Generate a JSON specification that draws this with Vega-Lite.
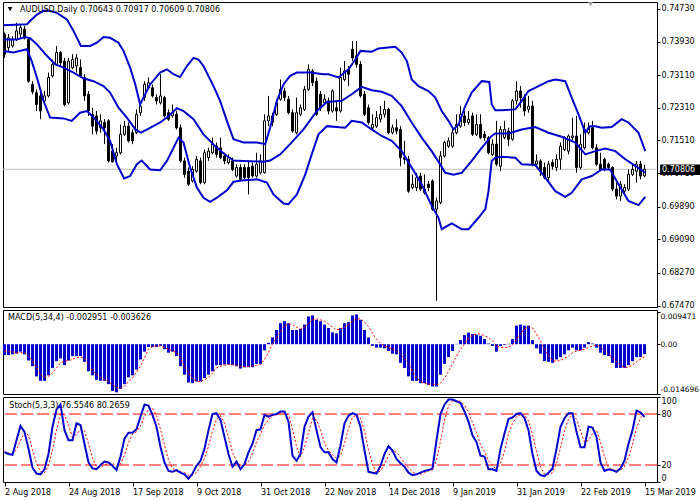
{
"$schema": "https://vega.github.io/schema/vega-lite/v6.json",
"padding": {"left": 0, "top": 1, "right": 0, "bottom": 0},
"background": "white",
"spacing": 3,
"bounds": "flush",
"resolve": {"scale": {"x": "independent", "y": "independent"}},
"config": {
 "view": {"stroke": "black", "strokeWidth": 1},
 "scale": {"continuousPadding": 0},
 "axis": {"grid": false, "domain": false, "labelFont": "DejaVu Sans", "labelFontSize": 8, "labelColor": "black", "tickColor": "black", "tickSize": 3, "labelPadding": 1, "labelOverlap": false, "labelBound": false, "tickCount": 30}
},
"datasets": {
"bars": [
{"i":0,"o":0.7411,"h":0.7415,"l":0.7353,"c":0.7362,"m":-0.0032,"s":-0.0022,"st":35,"sg":36},
{"i":1,"o":0.7378,"h":0.7411,"l":0.7370,"c":0.7402,"m":-0.0032,"s":-0.0022,"st":33,"sg":34},
{"i":2,"o":0.7382,"h":0.7406,"l":0.7378,"c":0.7398,"m":-0.0030,"s":-0.0023,"st":32,"sg":33},
{"i":3,"o":0.7398,"h":0.7439,"l":0.7394,"c":0.7419,"m":-0.0028,"s":-0.0025,"st":49,"sg":38},
{"i":4,"o":0.7411,"h":0.7435,"l":0.7402,"c":0.7427,"m":-0.0022,"s":-0.0025,"st":66,"sg":49},
{"i":5,"o":0.7423,"h":0.7431,"l":0.7398,"c":0.7402,"m":-0.0030,"s":-0.0025,"st":59,"sg":58},
{"i":6,"o":0.7398,"h":0.7402,"l":0.7292,"c":0.7296,"m":-0.0048,"s":-0.0035,"st":39,"sg":55},
{"i":7,"o":0.7288,"h":0.7296,"l":0.7264,"c":0.7270,"m":-0.0065,"s":-0.0050,"st":17,"sg":38},
{"i":8,"o":0.7268,"h":0.7276,"l":0.7223,"c":0.7239,"m":-0.0095,"s":-0.0070,"st":10,"sg":22},
{"i":9,"o":0.7260,"h":0.7268,"l":0.7203,"c":0.7223,"m":-0.0108,"s":-0.0090,"st":9,"sg":12},
{"i":10,"o":0.7248,"h":0.7272,"l":0.7239,"c":0.7260,"m":-0.0108,"s":-0.0098,"st":15,"sg":11},
{"i":11,"o":0.7260,"h":0.7317,"l":0.7256,"c":0.7305,"m":-0.0092,"s":-0.0095,"st":33,"sg":19},
{"i":12,"o":0.7309,"h":0.7349,"l":0.7305,"c":0.7337,"m":-0.0070,"s":-0.0085,"st":65,"sg":38},
{"i":13,"o":0.7337,"h":0.7382,"l":0.7333,"c":0.7366,"m":-0.0050,"s":-0.0070,"st":85,"sg":61},
{"i":14,"o":0.7366,"h":0.7370,"l":0.7333,"c":0.7341,"m":-0.0042,"s":-0.0055,"st":91,"sg":80},
{"i":15,"o":0.7345,"h":0.7353,"l":0.7235,"c":0.7239,"m":-0.0062,"s":-0.0050,"st":61,"sg":79},
{"i":16,"o":0.7243,"h":0.7353,"l":0.7239,"c":0.7345,"m":-0.0048,"s":-0.0048,"st":49,"sg":67},
{"i":17,"o":0.7329,"h":0.7362,"l":0.7325,"c":0.7349,"m":-0.0035,"s":-0.0045,"st":49,"sg":53},
{"i":18,"o":0.7333,"h":0.7362,"l":0.7317,"c":0.7353,"m":-0.0035,"s":-0.0040,"st":69,"sg":56},
{"i":19,"o":0.7329,"h":0.7349,"l":0.7305,"c":0.7309,"m":-0.0035,"s":-0.0038,"st":67,"sg":62},
{"i":20,"o":0.7305,"h":0.7313,"l":0.7248,"c":0.7260,"m":-0.0052,"s":-0.0042,"st":45,"sg":60},
{"i":21,"o":0.7264,"h":0.7272,"l":0.7211,"c":0.7223,"m":-0.0080,"s":-0.0060,"st":23,"sg":45},
{"i":22,"o":0.7215,"h":0.7231,"l":0.7166,"c":0.7186,"m":-0.0092,"s":-0.0078,"st":16,"sg":28},
{"i":23,"o":0.7211,"h":0.7223,"l":0.7166,"c":0.7174,"m":-0.0105,"s":-0.0090,"st":15,"sg":18},
{"i":24,"o":0.7182,"h":0.7215,"l":0.7170,"c":0.7199,"m":-0.0108,"s":-0.0098,"st":20,"sg":17},
{"i":25,"o":0.7195,"h":0.7203,"l":0.7142,"c":0.7182,"m":-0.0108,"s":-0.0105,"st":24,"sg":20},
{"i":26,"o":0.7199,"h":0.7203,"l":0.7097,"c":0.7101,"m":-0.0118,"s":-0.0110,"st":23,"sg":22},
{"i":27,"o":0.7125,"h":0.7142,"l":0.7097,"c":0.7099,"m":-0.0138,"s":-0.0120,"st":19,"sg":22},
{"i":28,"o":0.7113,"h":0.7133,"l":0.7093,"c":0.7121,"m":-0.0142,"s":-0.0128,"st":14,"sg":19},
{"i":29,"o":0.7121,"h":0.7190,"l":0.7117,"c":0.7166,"m":-0.0132,"s":-0.0130,"st":30,"sg":21},
{"i":30,"o":0.7166,"h":0.7199,"l":0.7162,"c":0.7186,"m":-0.0118,"s":-0.0125,"st":51,"sg":32},
{"i":31,"o":0.7186,"h":0.7195,"l":0.7146,"c":0.7150,"m":-0.0098,"s":-0.0110,"st":58,"sg":46},
{"i":32,"o":0.7170,"h":0.7178,"l":0.7142,"c":0.7150,"m":-0.0092,"s":-0.0100,"st":58,"sg":56},
{"i":33,"o":0.7170,"h":0.7227,"l":0.7166,"c":0.7215,"m":-0.0075,"s":-0.0082,"st":62,"sg":59},
{"i":34,"o":0.7219,"h":0.7248,"l":0.7211,"c":0.7235,"m":-0.0045,"s":-0.0065,"st":77,"sg":66},
{"i":35,"o":0.7256,"h":0.7296,"l":0.7248,"c":0.7288,"m":-0.0022,"s":-0.0040,"st":91,"sg":77},
{"i":36,"o":0.7280,"h":0.7305,"l":0.7276,"c":0.7292,"m":-0.0008,"s":-0.0015,"st":90,"sg":86},
{"i":37,"o":0.7280,"h":0.7288,"l":0.7256,"c":0.7260,"m":-0.0008,"s":-0.0007,"st":79,"sg":87},
{"i":38,"o":0.7256,"h":0.7264,"l":0.7239,"c":0.7248,"m":-0.0008,"s":-0.0005,"st":65,"sg":78},
{"i":39,"o":0.7243,"h":0.7313,"l":0.7239,"c":0.7260,"m":-0.0005,"s":-0.0005,"st":41,"sg":62},
{"i":40,"o":0.7256,"h":0.7260,"l":0.7207,"c":0.7211,"m":-0.0015,"s":-0.0010,"st":23,"sg":43},
{"i":41,"o":0.7219,"h":0.7227,"l":0.7199,"c":0.7203,"m":-0.0025,"s":-0.0015,"st":13,"sg":26},
{"i":42,"o":0.7211,"h":0.7239,"l":0.7207,"c":0.7219,"m":-0.0022,"s":-0.0020,"st":12,"sg":16},
{"i":43,"o":0.7215,"h":0.7223,"l":0.7178,"c":0.7182,"m":-0.0035,"s":-0.0025,"st":14,"sg":13},
{"i":44,"o":0.7182,"h":0.7190,"l":0.7097,"c":0.7101,"m":-0.0065,"s":-0.0042,"st":11,"sg":12},
{"i":45,"o":0.7101,"h":0.7109,"l":0.7060,"c":0.7068,"m":-0.0090,"s":-0.0065,"st":9,"sg":11},
{"i":46,"o":0.7076,"h":0.7085,"l":0.7040,"c":0.7044,"m":-0.0113,"s":-0.0085,"st":4,"sg":8},
{"i":47,"o":0.7052,"h":0.7088,"l":0.7048,"c":0.7080,"m":-0.0115,"s":-0.0102,"st":10,"sg":8},
{"i":48,"o":0.7076,"h":0.7113,"l":0.7072,"c":0.7105,"m":-0.0110,"s":-0.0110,"st":19,"sg":11},
{"i":49,"o":0.7101,"h":0.7109,"l":0.7044,"c":0.7048,"m":-0.0110,"s":-0.0110,"st":25,"sg":18},
{"i":50,"o":0.7048,"h":0.7129,"l":0.7044,"c":0.7121,"m":-0.0100,"s":-0.0105,"st":39,"sg":28},
{"i":51,"o":0.7109,"h":0.7133,"l":0.7101,"c":0.7125,"m":-0.0090,"s":-0.0098,"st":61,"sg":42},
{"i":52,"o":0.7121,"h":0.7158,"l":0.7117,"c":0.7142,"m":-0.0080,"s":-0.0085,"st":80,"sg":60},
{"i":53,"o":0.7137,"h":0.7146,"l":0.7109,"c":0.7117,"m":-0.0062,"s":-0.0070,"st":81,"sg":74},
{"i":54,"o":0.7133,"h":0.7158,"l":0.7105,"c":0.7109,"m":-0.0062,"s":-0.0065,"st":73,"sg":78},
{"i":55,"o":0.7113,"h":0.7121,"l":0.7093,"c":0.7101,"m":-0.0060,"s":-0.0062,"st":53,"sg":69},
{"i":56,"o":0.7097,"h":0.7117,"l":0.7093,"c":0.7109,"m":-0.0060,"s":-0.0060,"st":33,"sg":53},
{"i":57,"o":0.7101,"h":0.7109,"l":0.7076,"c":0.7080,"m":-0.0062,"s":-0.0060,"st":18,"sg":35},
{"i":58,"o":0.7064,"h":0.7093,"l":0.7060,"c":0.7085,"m":-0.0065,"s":-0.0062,"st":24,"sg":25},
{"i":59,"o":0.7085,"h":0.7093,"l":0.7052,"c":0.7056,"m":-0.0072,"s":-0.0065,"st":15,"sg":19},
{"i":60,"o":0.7085,"h":0.7093,"l":0.7056,"c":0.7060,"m":-0.0068,"s":-0.0067,"st":21,"sg":20},
{"i":61,"o":0.7085,"h":0.7101,"l":0.7019,"c":0.7060,"m":-0.0068,"s":-0.0066,"st":35,"sg":24},
{"i":62,"o":0.7088,"h":0.7097,"l":0.7060,"c":0.7064,"m":-0.0068,"s":-0.0065,"st":45,"sg":34},
{"i":63,"o":0.7064,"h":0.7121,"l":0.7060,"c":0.7093,"m":-0.0058,"s":-0.0062,"st":61,"sg":47},
{"i":64,"o":0.7072,"h":0.7117,"l":0.7068,"c":0.7101,"m":-0.0058,"s":-0.0060,"st":62,"sg":56},
{"i":65,"o":0.7072,"h":0.7215,"l":0.7070,"c":0.7199,"m":-0.0018,"s":-0.0045,"st":79,"sg":67},
{"i":66,"o":0.7199,"h":0.7260,"l":0.7186,"c":0.7211,"m":0.0004,"s":-0.0025,"st":77,"sg":73},
{"i":67,"o":0.7211,"h":0.7219,"l":0.7186,"c":0.7195,"m":0.0020,"s":0.0002,"st":79,"sg":78},
{"i":68,"o":0.7215,"h":0.7252,"l":0.7211,"c":0.7243,"m":0.0042,"s":0.0020,"st":80,"sg":79},
{"i":69,"o":0.7252,"h":0.7300,"l":0.7248,"c":0.7276,"m":0.0062,"s":0.0038,"st":83,"sg":81},
{"i":70,"o":0.7272,"h":0.7280,"l":0.7248,"c":0.7256,"m":0.0068,"s":0.0055,"st":83,"sg":82},
{"i":71,"o":0.7252,"h":0.7260,"l":0.7215,"c":0.7219,"m":0.0062,"s":0.0060,"st":71,"sg":79},
{"i":72,"o":0.7219,"h":0.7227,"l":0.7170,"c":0.7174,"m":0.0042,"s":0.0058,"st":31,"sg":62},
{"i":73,"o":0.7170,"h":0.7256,"l":0.7166,"c":0.7219,"m":0.0042,"s":0.0050,"st":25,"sg":42},
{"i":74,"o":0.7215,"h":0.7239,"l":0.7211,"c":0.7231,"m":0.0045,"s":0.0045,"st":33,"sg":30},
{"i":75,"o":0.7227,"h":0.7284,"l":0.7223,"c":0.7276,"m":0.0058,"s":0.0050,"st":65,"sg":41},
{"i":76,"o":0.7276,"h":0.7337,"l":0.7272,"c":0.7325,"m":0.0082,"s":0.0062,"st":77,"sg":58},
{"i":77,"o":0.7321,"h":0.7325,"l":0.7284,"c":0.7292,"m":0.0085,"s":0.0072,"st":82,"sg":75},
{"i":78,"o":0.7296,"h":0.7305,"l":0.7211,"c":0.7215,"m":0.0072,"s":0.0075,"st":61,"sg":73},
{"i":79,"o":0.7264,"h":0.7272,"l":0.7223,"c":0.7231,"m":0.0068,"s":0.0072,"st":41,"sg":61},
{"i":80,"o":0.7243,"h":0.7264,"l":0.7239,"c":0.7252,"m":0.0058,"s":0.0068,"st":35,"sg":46},
{"i":81,"o":0.7248,"h":0.7256,"l":0.7215,"c":0.7223,"m":0.0048,"s":0.0060,"st":35,"sg":37},
{"i":82,"o":0.7223,"h":0.7276,"l":0.7219,"c":0.7272,"m":0.0035,"s":0.0050,"st":27,"sg":32},
{"i":83,"o":0.7231,"h":0.7248,"l":0.7199,"c":0.7223,"m":0.0032,"s":0.0042,"st":23,"sg":28},
{"i":84,"o":0.7223,"h":0.7329,"l":0.7219,"c":0.7305,"m":0.0048,"s":0.0045,"st":43,"sg":31},
{"i":85,"o":0.7300,"h":0.7345,"l":0.7296,"c":0.7321,"m":0.0062,"s":0.0050,"st":69,"sg":45},
{"i":86,"o":0.7325,"h":0.7333,"l":0.7284,"c":0.7313,"m":0.0065,"s":0.0058,"st":78,"sg":63},
{"i":87,"o":0.7374,"h":0.7394,"l":0.7345,"c":0.7353,"m":0.0085,"s":0.0068,"st":81,"sg":76},
{"i":88,"o":0.7358,"h":0.7394,"l":0.7329,"c":0.7337,"m":0.0088,"s":0.0075,"st":79,"sg":79},
{"i":89,"o":0.7337,"h":0.7345,"l":0.7256,"c":0.7260,"m":0.0072,"s":0.0075,"st":65,"sg":75},
{"i":90,"o":0.7264,"h":0.7272,"l":0.7211,"c":0.7215,"m":0.0042,"s":0.0065,"st":37,"sg":60},
{"i":91,"o":0.7231,"h":0.7239,"l":0.7190,"c":0.7195,"m":0.0020,"s":0.0052,"st":12,"sg":38},
{"i":92,"o":0.7182,"h":0.7215,"l":0.7174,"c":0.7190,"m":-0.0005,"s":0.0032,"st":11,"sg":20},
{"i":93,"o":0.7186,"h":0.7223,"l":0.7182,"c":0.7207,"m":-0.0010,"s":0.0015,"st":10,"sg":11},
{"i":94,"o":0.7203,"h":0.7235,"l":0.7195,"c":0.7215,"m":-0.0010,"s":0.0002,"st":19,"sg":13},
{"i":95,"o":0.7215,"h":0.7248,"l":0.7207,"c":0.7227,"m":-0.0012,"s":-0.0005,"st":33,"sg":21},
{"i":96,"o":0.7227,"h":0.7231,"l":0.7166,"c":0.7170,"m":-0.0020,"s":-0.0010,"st":42,"sg":31},
{"i":97,"o":0.7170,"h":0.7190,"l":0.7166,"c":0.7182,"m":-0.0028,"s":-0.0015,"st":37,"sg":37},
{"i":98,"o":0.7182,"h":0.7203,"l":0.7166,"c":0.7174,"m":-0.0030,"s":-0.0020,"st":27,"sg":35},
{"i":99,"o":0.7178,"h":0.7186,"l":0.7088,"c":0.7109,"m":-0.0055,"s":-0.0030,"st":22,"sg":29},
{"i":100,"o":0.7109,"h":0.7150,"l":0.7093,"c":0.7105,"m":-0.0070,"s":-0.0042,"st":18,"sg":22},
{"i":101,"o":0.7105,"h":0.7113,"l":0.7023,"c":0.7027,"m":-0.0095,"s":-0.0058,"st":11,"sg":17},
{"i":102,"o":0.7036,"h":0.7068,"l":0.7032,"c":0.7044,"m":-0.0108,"s":-0.0080,"st":8,"sg":12},
{"i":103,"o":0.7036,"h":0.7072,"l":0.7027,"c":0.7060,"m":-0.0108,"s":-0.0098,"st":9,"sg":9},
{"i":104,"o":0.7064,"h":0.7072,"l":0.7027,"c":0.7032,"m":-0.0115,"s":-0.0110,"st":11,"sg":9},
{"i":105,"o":0.7023,"h":0.7068,"l":0.7019,"c":0.7032,"m":-0.0115,"s":-0.0115,"st":13,"sg":11},
{"i":106,"o":0.7044,"h":0.7052,"l":0.7027,"c":0.7036,"m":-0.0120,"s":-0.0118,"st":14,"sg":13},
{"i":107,"o":0.7052,"h":0.7056,"l":0.6979,"c":0.6983,"m":-0.0125,"s":-0.0118,"st":16,"sg":14},
{"i":108,"o":0.6983,"h":0.7011,"l":0.6759,"c":0.7003,"m":-0.0125,"s":-0.0120,"st":49,"sg":26},
{"i":109,"o":0.6999,"h":0.7125,"l":0.6995,"c":0.7113,"m":-0.0090,"s":-0.0115,"st":80,"sg":48},
{"i":110,"o":0.7113,"h":0.7150,"l":0.7109,"c":0.7146,"m":-0.0058,"s":-0.0100,"st":91,"sg":73},
{"i":111,"o":0.7137,"h":0.7158,"l":0.7133,"c":0.7150,"m":-0.0038,"s":-0.0080,"st":97,"sg":89},
{"i":112,"o":0.7137,"h":0.7178,"l":0.7133,"c":0.7170,"m":-0.0020,"s":-0.0058,"st":97,"sg":95},
{"i":113,"o":0.7170,"h":0.7215,"l":0.7166,"c":0.7190,"m":0.0001,"s":-0.0035,"st":95,"sg":96},
{"i":114,"o":0.7186,"h":0.7235,"l":0.7182,"c":0.7215,"m":0.0012,"s":-0.0015,"st":93,"sg":95},
{"i":115,"o":0.7211,"h":0.7223,"l":0.7186,"c":0.7195,"m":0.0027,"s":0.0002,"st":83,"sg":90},
{"i":116,"o":0.7195,"h":0.7223,"l":0.7190,"c":0.7203,"m":0.0034,"s":0.0018,"st":71,"sg":82},
{"i":117,"o":0.7211,"h":0.7219,"l":0.7162,"c":0.7166,"m":0.0030,"s":0.0026,"st":55,"sg":70},
{"i":118,"o":0.7166,"h":0.7215,"l":0.7162,"c":0.7190,"m":0.0028,"s":0.0030,"st":47,"sg":58},
{"i":119,"o":0.7190,"h":0.7215,"l":0.7154,"c":0.7158,"m":0.0025,"s":0.0030,"st":31,"sg":44},
{"i":120,"o":0.7166,"h":0.7174,"l":0.7150,"c":0.7158,"m":0.0015,"s":0.0025,"st":30,"sg":36},
{"i":121,"o":0.7158,"h":0.7162,"l":0.7117,"c":0.7121,"m":0.0002,"s":0.0020,"st":15,"sg":25},
{"i":122,"o":0.7117,"h":0.7154,"l":0.7113,"c":0.7142,"m":-0.0005,"s":0.0010,"st":15,"sg":20},
{"i":123,"o":0.7142,"h":0.7199,"l":0.7088,"c":0.7093,"m":-0.0022,"s":-0.0005,"st":13,"sg":14},
{"i":124,"o":0.7088,"h":0.7186,"l":0.7076,"c":0.7178,"m":-0.0005,"s":-0.0010,"st":39,"sg":22},
{"i":125,"o":0.7158,"h":0.7199,"l":0.7154,"c":0.7178,"m":-0.0002,"s":-0.0010,"st":57,"sg":36},
{"i":126,"o":0.7174,"h":0.7182,"l":0.7137,"c":0.7154,"m":0.0001,"s":-0.0008,"st":74,"sg":57},
{"i":127,"o":0.7154,"h":0.7252,"l":0.7150,"c":0.7248,"m":0.0015,"s":-0.0002,"st":76,"sg":69},
{"i":128,"o":0.7248,"h":0.7296,"l":0.7239,"c":0.7272,"m":0.0055,"s":0.0015,"st":80,"sg":77},
{"i":129,"o":0.7272,"h":0.7284,"l":0.7231,"c":0.7256,"m":0.0058,"s":0.0030,"st":81,"sg":79},
{"i":130,"o":0.7256,"h":0.7264,"l":0.7211,"c":0.7223,"m":0.0055,"s":0.0045,"st":75,"sg":79},
{"i":131,"o":0.7227,"h":0.7260,"l":0.7219,"c":0.7235,"m":0.0055,"s":0.0052,"st":61,"sg":72},
{"i":132,"o":0.7235,"h":0.7248,"l":0.7088,"c":0.7093,"m":0.0012,"s":0.0048,"st":33,"sg":56},
{"i":133,"o":0.7093,"h":0.7117,"l":0.7088,"c":0.7101,"m":-0.0012,"s":0.0030,"st":13,"sg":36},
{"i":134,"o":0.7101,"h":0.7105,"l":0.7064,"c":0.7076,"m":-0.0028,"s":0.0008,"st":8,"sg":18},
{"i":135,"o":0.7085,"h":0.7097,"l":0.7056,"c":0.7060,"m":-0.0050,"s":-0.0015,"st":7,"sg":9},
{"i":136,"o":0.7060,"h":0.7101,"l":0.7052,"c":0.7093,"m":-0.0052,"s":-0.0035,"st":11,"sg":9},
{"i":137,"o":0.7097,"h":0.7105,"l":0.7080,"c":0.7088,"m":-0.0055,"s":-0.0048,"st":16,"sg":11},
{"i":138,"o":0.7085,"h":0.7117,"l":0.7076,"c":0.7105,"m":-0.0045,"s":-0.0050,"st":39,"sg":22},
{"i":139,"o":0.7105,"h":0.7146,"l":0.7080,"c":0.7137,"m":-0.0038,"s":-0.0048,"st":65,"sg":40},
{"i":140,"o":0.7129,"h":0.7162,"l":0.7125,"c":0.7158,"m":-0.0030,"s":-0.0042,"st":75,"sg":60},
{"i":141,"o":0.7125,"h":0.7166,"l":0.7117,"c":0.7162,"m":-0.0018,"s":-0.0035,"st":81,"sg":74},
{"i":142,"o":0.7158,"h":0.7207,"l":0.7150,"c":0.7162,"m":-0.0010,"s":-0.0025,"st":81,"sg":79},
{"i":143,"o":0.7162,"h":0.7211,"l":0.7072,"c":0.7085,"m":-0.0018,"s":-0.0020,"st":59,"sg":74},
{"i":144,"o":0.7085,"h":0.7166,"l":0.7080,"c":0.7142,"m":-0.0018,"s":-0.0018,"st":41,"sg":60},
{"i":145,"o":0.7133,"h":0.7195,"l":0.7129,"c":0.7178,"m":-0.0010,"s":-0.0015,"st":41,"sg":47},
{"i":146,"o":0.7170,"h":0.7195,"l":0.7166,"c":0.7182,"m":0.0006,"s":-0.0010,"st":65,"sg":49},
{"i":147,"o":0.7182,"h":0.7199,"l":0.7129,"c":0.7133,"m":0.0002,"s":-0.0005,"st":64,"sg":57},
{"i":148,"o":0.7133,"h":0.7142,"l":0.7088,"c":0.7093,"m":-0.0010,"s":-0.0002,"st":53,"sg":61},
{"i":149,"o":0.7093,"h":0.7121,"l":0.7076,"c":0.7080,"m":-0.0025,"s":-0.0008,"st":23,"sg":47},
{"i":150,"o":0.7105,"h":0.7109,"l":0.7076,"c":0.7080,"m":-0.0032,"s":-0.0020,"st":13,"sg":30},
{"i":151,"o":0.7093,"h":0.7097,"l":0.7080,"c":0.7085,"m":-0.0035,"s":-0.0030,"st":15,"sg":17},
{"i":152,"o":0.7085,"h":0.7088,"l":0.7027,"c":0.7032,"m":-0.0055,"s":-0.0040,"st":14,"sg":14},
{"i":153,"o":0.7032,"h":0.7048,"l":0.7007,"c":0.7015,"m":-0.0070,"s":-0.0052,"st":12,"sg":14},
{"i":154,"o":0.7015,"h":0.7052,"l":0.7003,"c":0.7044,"m":-0.0070,"s":-0.0062,"st":16,"sg":14},
{"i":155,"o":0.7027,"h":0.7044,"l":0.7023,"c":0.7036,"m":-0.0070,"s":-0.0068,"st":25,"sg":18},
{"i":156,"o":0.7032,"h":0.7080,"l":0.7027,"c":0.7068,"m":-0.0062,"s":-0.0068,"st":45,"sg":29},
{"i":157,"o":0.7068,"h":0.7093,"l":0.7064,"c":0.7080,"m":-0.0050,"s":-0.0062,"st":61,"sg":44},
{"i":158,"o":0.7076,"h":0.7101,"l":0.7048,"c":0.7093,"m":-0.0038,"s":-0.0052,"st":84,"sg":63},
{"i":159,"o":0.7093,"h":0.7101,"l":0.7056,"c":0.7064,"m":-0.0038,"s":-0.0044,"st":82,"sg":76},
{"i":160,"o":0.70643,"h":0.70917,"l":0.70609,"c":0.70806,"m":-0.002951,"s":-0.003626,"st":76.5546,"sg":80.2659}
],
"bb": [
{"i":-0.25,"b":"u","v":0.7433},{"i":5.6,"b":"u","v":0.7435},{"i":6.4,"b":"u","v":0.7443},{"i":8.1,"b":"u","v":0.7459},{"i":9.75,"b":"u","v":0.7468},{"i":11,"b":"u","v":0.7469},{"i":13.1,"b":"u","v":0.7463},{"i":15.6,"b":"u","v":0.7447},{"i":17.25,"b":"u","v":0.7419},{"i":19.1,"b":"u","v":0.7382},{"i":21.4,"b":"u","v":0.7382},{"i":23.1,"b":"u","v":0.7390},{"i":24.75,"b":"u","v":0.7404},{"i":26.4,"b":"u","v":0.7402},{"i":28.5,"b":"u","v":0.7390},{"i":29.75,"b":"u","v":0.7370},{"i":31.4,"b":"u","v":0.7329},{"i":32.7,"b":"u","v":0.7288},{"i":33.9,"b":"u","v":0.7239},{"i":34.75,"b":"u","v":0.7256},{"i":36.4,"b":"u","v":0.7288},{"i":38.9,"b":"u","v":0.7317},{"i":40.6,"b":"u","v":0.7325},{"i":42.25,"b":"u","v":0.7313},{"i":43.9,"b":"u","v":0.7306},{"i":45.6,"b":"u","v":0.7333},{"i":47.25,"b":"u","v":0.7353},{"i":48.5,"b":"u","v":0.7349},{"i":49.75,"b":"u","v":0.7333},{"i":52.25,"b":"u","v":0.7284},{"i":53.9,"b":"u","v":0.7248},{"i":55.6,"b":"u","v":0.7199},{"i":57.25,"b":"u","v":0.7154},{"i":59.75,"b":"u","v":0.7146},{"i":63.1,"b":"u","v":0.7146},{"i":65.2,"b":"u","v":0.7142},{"i":66.4,"b":"u","v":0.7182},{"i":68.1,"b":"u","v":0.7248},{"i":69.75,"b":"u","v":0.7288},{"i":71.4,"b":"u","v":0.7309},{"i":73.1,"b":"u","v":0.7317},{"i":76.4,"b":"u","v":0.7317},{"i":79.75,"b":"u","v":0.7313},{"i":81,"b":"u","v":0.7313},{"i":83.5,"b":"u","v":0.7305},{"i":86,"b":"u","v":0.7325},{"i":87.7,"b":"u","v":0.7349},{"i":89,"b":"u","v":0.7370},{"i":91.8,"b":"u","v":0.7368},{"i":93.5,"b":"u","v":0.7376},{"i":97.7,"b":"u","v":0.7380},{"i":99.3,"b":"u","v":0.7366},{"i":100.6,"b":"u","v":0.7345},{"i":101.8,"b":"u","v":0.7300},{"i":103.5,"b":"u","v":0.7284},{"i":106,"b":"u","v":0.7272},{"i":107.7,"b":"u","v":0.7256},{"i":109.3,"b":"u","v":0.7223},{"i":111,"b":"u","v":0.7199},{"i":112.25,"b":"u","v":0.7178},{"i":113.5,"b":"u","v":0.7190},{"i":115.2,"b":"u","v":0.7235},{"i":116.8,"b":"u","v":0.7268},{"i":119.3,"b":"u","v":0.7296},{"i":121.2,"b":"u","v":0.7294},{"i":121.8,"b":"u","v":0.7239},{"i":122.7,"b":"u","v":0.7225},{"i":124.3,"b":"u","v":0.7225},{"i":127.7,"b":"u","v":0.7227},{"i":129.3,"b":"u","v":0.7248},{"i":131,"b":"u","v":0.7272},{"i":133.5,"b":"u","v":0.7284},{"i":136,"b":"u","v":0.7296},{"i":137.7,"b":"u","v":0.7300},{"i":140.2,"b":"u","v":0.7296},{"i":141.8,"b":"u","v":0.7256},{"i":143.5,"b":"u","v":0.7215},{"i":145.2,"b":"u","v":0.7170},{"i":146.4,"b":"u","v":0.7186},{"i":147.7,"b":"u","v":0.7186},{"i":149.3,"b":"u","v":0.7182},{"i":151.8,"b":"u","v":0.7184},{"i":154.3,"b":"u","v":0.7203},{"i":156,"b":"u","v":0.7195},{"i":158.5,"b":"u","v":0.7170},{"i":160.2,"b":"u","v":0.7125},
{"i":-0.25,"b":"m","v":0.7398},{"i":3.1,"b":"m","v":0.7398},{"i":5.2,"b":"m","v":0.7404},{"i":6.4,"b":"m","v":0.7401},{"i":8.1,"b":"m","v":0.7386},{"i":10.6,"b":"m","v":0.7358},{"i":12.7,"b":"m","v":0.7337},{"i":14.75,"b":"m","v":0.7329},{"i":17.25,"b":"m","v":0.7317},{"i":19.75,"b":"m","v":0.7303},{"i":22.25,"b":"m","v":0.7296},{"i":24.75,"b":"m","v":0.7284},{"i":26.4,"b":"m","v":0.7268},{"i":28.5,"b":"m","v":0.7231},{"i":30.6,"b":"m","v":0.7207},{"i":32.7,"b":"m","v":0.7178},{"i":34.1,"b":"m","v":0.7170},{"i":36.4,"b":"m","v":0.7182},{"i":38.9,"b":"m","v":0.7195},{"i":40.6,"b":"m","v":0.7207},{"i":43.1,"b":"m","v":0.7230},{"i":44.75,"b":"m","v":0.7223},{"i":47.25,"b":"m","v":0.7203},{"i":49.75,"b":"m","v":0.7166},{"i":53.1,"b":"m","v":0.7133},{"i":55.6,"b":"m","v":0.7113},{"i":57.25,"b":"m","v":0.7102},{"i":59.75,"b":"m","v":0.7101},{"i":64.75,"b":"m","v":0.7099},{"i":66.4,"b":"m","v":0.7102},{"i":68.9,"b":"m","v":0.7117},{"i":71.4,"b":"m","v":0.7142},{"i":74.75,"b":"m","v":0.7178},{"i":78.1,"b":"m","v":0.7223},{"i":80.6,"b":"m","v":0.7245},{"i":84.3,"b":"m","v":0.7248},{"i":86.8,"b":"m","v":0.7264},{"i":89.3,"b":"m","v":0.7282},{"i":91.8,"b":"m","v":0.7274},{"i":94.3,"b":"m","v":0.7270},{"i":96.8,"b":"m","v":0.7260},{"i":99.3,"b":"m","v":0.7235},{"i":101.8,"b":"m","v":0.7195},{"i":104.3,"b":"m","v":0.7158},{"i":106.8,"b":"m","v":0.7125},{"i":108.9,"b":"m","v":0.7093},{"i":110.2,"b":"m","v":0.7072},{"i":112.25,"b":"m","v":0.7067},{"i":114.3,"b":"m","v":0.7072},{"i":116.8,"b":"m","v":0.7101},{"i":119.3,"b":"m","v":0.7133},{"i":121.8,"b":"m","v":0.7162},{"i":122.7,"b":"m","v":0.7168},{"i":126,"b":"m","v":0.7168},{"i":129.3,"b":"m","v":0.7178},{"i":132.7,"b":"m","v":0.7184},{"i":136,"b":"m","v":0.7170},{"i":139.3,"b":"m","v":0.7160},{"i":142.7,"b":"m","v":0.7146},{"i":145.2,"b":"m","v":0.7117},{"i":147.7,"b":"m","v":0.7125},{"i":150.2,"b":"m","v":0.7131},{"i":152.7,"b":"m","v":0.7125},{"i":155.2,"b":"m","v":0.7105},{"i":157.7,"b":"m","v":0.7089},{"i":160.2,"b":"m","v":0.7072},
{"i":-0.25,"b":"l","v":0.7370},{"i":2.25,"b":"l","v":0.7366},{"i":5.6,"b":"l","v":0.7374},{"i":6.8,"b":"l","v":0.7345},{"i":8.1,"b":"l","v":0.7305},{"i":9.75,"b":"l","v":0.7248},{"i":11.4,"b":"l","v":0.7207},{"i":14.75,"b":"l","v":0.7205},{"i":16.8,"b":"l","v":0.7199},{"i":18.9,"b":"l","v":0.7219},{"i":20.6,"b":"l","v":0.7223},{"i":22.25,"b":"l","v":0.7208},{"i":24.75,"b":"l","v":0.7178},{"i":26.4,"b":"l","v":0.7150},{"i":28.1,"b":"l","v":0.7093},{"i":29.9,"b":"l","v":0.7058},{"i":31.4,"b":"l","v":0.7064},{"i":33.1,"b":"l","v":0.7093},{"i":34.3,"b":"l","v":0.7102},{"i":36.4,"b":"l","v":0.7080},{"i":38.9,"b":"l","v":0.7078},{"i":40.6,"b":"l","v":0.7101},{"i":42.25,"b":"l","v":0.7133},{"i":43.5,"b":"l","v":0.7158},{"i":44.75,"b":"l","v":0.7146},{"i":46.4,"b":"l","v":0.7085},{"i":48.1,"b":"l","v":0.7036},{"i":49.75,"b":"l","v":0.7011},{"i":51.4,"b":"l","v":0.7001},{"i":53.1,"b":"l","v":0.7011},{"i":55.6,"b":"l","v":0.7029},{"i":57.25,"b":"l","v":0.7050},{"i":59.75,"b":"l","v":0.7054},{"i":63.1,"b":"l","v":0.7056},{"i":65.6,"b":"l","v":0.7048},{"i":67.25,"b":"l","v":0.7019},{"i":69.75,"b":"l","v":0.6997},{"i":71,"b":"l","v":0.6995},{"i":73.1,"b":"l","v":0.7019},{"i":75.2,"b":"l","v":0.7068},{"i":76.8,"b":"l","v":0.7117},{"i":78.5,"b":"l","v":0.7166},{"i":80.6,"b":"l","v":0.7186},{"i":85.2,"b":"l","v":0.7182},{"i":86.8,"b":"l","v":0.7199},{"i":89.3,"b":"l","v":0.7195},{"i":91.8,"b":"l","v":0.7178},{"i":94.3,"b":"l","v":0.7162},{"i":96.8,"b":"l","v":0.7150},{"i":99.3,"b":"l","v":0.7125},{"i":101.8,"b":"l","v":0.7085},{"i":104.3,"b":"l","v":0.7044},{"i":106.8,"b":"l","v":0.6991},{"i":108.5,"b":"l","v":0.6962},{"i":109.3,"b":"l","v":0.6934},{"i":111.8,"b":"l","v":0.6948},{"i":114.3,"b":"l","v":0.6934},{"i":116,"b":"l","v":0.6934},{"i":118.5,"b":"l","v":0.6962},{"i":120.2,"b":"l","v":0.6983},{"i":121,"b":"l","v":0.7027},{"i":121.8,"b":"l","v":0.7101},{"i":122.7,"b":"l","v":0.7109},{"i":124.3,"b":"l","v":0.7111},{"i":127.7,"b":"l","v":0.7109},{"i":129.3,"b":"l","v":0.7093},{"i":132.7,"b":"l","v":0.7091},{"i":135.2,"b":"l","v":0.7060},{"i":137.7,"b":"l","v":0.7027},{"i":140.2,"b":"l","v":0.7013},{"i":141.8,"b":"l","v":0.7023},{"i":144.3,"b":"l","v":0.7056},{"i":146.8,"b":"l","v":0.7064},{"i":149.3,"b":"l","v":0.7080},{"i":151.4,"b":"l","v":0.7080},{"i":153.5,"b":"l","v":0.7044},{"i":156,"b":"l","v":0.7003},{"i":158.5,"b":"l","v":0.6993},{"i":160.2,"b":"l","v":0.7013}
]
},
"vconcat": [
{
 "width": 654, "height": 305,
 "layer": [
  {"data": {"values": [{"p": 0.70806}]}, "mark": {"type": "rule", "color": "#C0C0C0", "strokeWidth": 1},
   "encoding": {"y": {"field": "p", "type": "quantitative", "scale": {"domain": [0.67438, 0.74896], "nice": false, "zero": false, "padding": 0},
     "axis": {"orient": "right", "title": null, "values": [0.7473,0.7393,0.7311,0.7231,0.7151,0.7071,0.6989,0.6909,0.6827,0.6747], "format": ".5f", "labelOverlap": false, "tickCount": 30}}}},
  {"data": {"name": "bars"}, "mark": {"type": "rule", "color": "black", "strokeWidth": 1},
   "encoding": {"x": {"field": "i", "type": "quantitative", "scale": {"domain": [-0.375, 163.125], "nice": false, "zero": false, "padding": 0}, "axis": null},
     "y": {"field": "l", "type": "quantitative"}, "y2": {"field": "h"}}},
  {"data": {"name": "bars"}, "mark": {"type": "bar", "size": 2, "stroke": "black", "strokeWidth": 1},
   "encoding": {"x": {"field": "i", "type": "quantitative"},
     "y": {"field": "o", "type": "quantitative"}, "y2": {"field": "c"},
     "fill": {"condition": {"test": "datum.c >= datum.o", "value": "white"}, "value": "black"}}},
  {"data": {"name": "bb"}, "mark": {"type": "line", "color": "#0000CD", "strokeWidth": 2, "clip": true},
   "encoding": {"x": {"field": "i", "type": "quantitative"}, "y": {"field": "v", "type": "quantitative"}, "detail": {"field": "b"}}},
  {"data": {"values": [{}]}, "mark": {"type": "point", "shape": "triangle-down", "filled": true, "color": "black", "size": 22, "opacity": 1},
   "encoding": {"x": {"datum": 1.4}, "y": {"datum": 0.74722}}},
  {"data": {"values": [{}]}, "mark": {"type": "point", "shape": "triangle-down", "filled": true, "color": "#A0A0A0", "size": 60, "opacity": 1, "clip": true},
   "encoding": {"x": {"datum": 146.5}, "y": {"datum": 0.74872}}},
  {"data": {"values": [{"t": "AUDUSD,Daily  0.70643 0.70917 0.70609 0.70806"}]}, "mark": {"type": "text", "align": "left", "baseline": "middle", "font": "DejaVu Sans", "fontSize": 8, "color": "black"},
   "encoding": {"x": {"datum": 3.9}, "y": {"datum": 0.74712}, "text": {"field": "t"}}},
  {"data": {"values": [{}]}, "mark": {"type": "rect", "color": "black", "clip": false},
   "encoding": {"x": {"datum": 163.9}, "x2": {"datum": 174.6}, "y": {"datum": 0.70922}, "y2": {"datum": 0.70666}}},
  {"data": {"values": [{"t": "0.70806"}]}, "mark": {"type": "text", "align": "left", "baseline": "middle", "font": "DejaVu Sans", "fontSize": 8, "color": "white", "clip": false},
   "encoding": {"x": {"datum": 164.4}, "y": {"datum": 0.70794}, "text": {"field": "t"}}}
 ]
},
{
 "width": 654, "height": 84,
 "layer": [
  {"data": {"name": "bars"}, "mark": {"type": "bar", "size": 3, "color": "#0000CD"},
   "encoding": {"x": {"field": "i", "type": "quantitative", "scale": {"domain": [-0.375, 163.125], "nice": false, "zero": false, "padding": 0}, "axis": null},
     "y": {"field": "m", "type": "quantitative", "scale": {"domain": [-0.0147, 0.0101], "nice": false, "zero": false, "padding": 0},
       "axis": {"orient": "right", "title": null, "values": [-0.014696, 0, 0.009471], "labelExpr": "datum.value > 0 ? '0.009471' : (datum.value < 0 ? '-0.014696' : '0.00')", "labelFlush": 5, "labelOverlap": false, "tickCount": 30, "labelPadding": 0, "labelFontSize": 7.5}},
     "y2": {"datum": 0}}},
  {"data": {"name": "bars"}, "mark": {"type": "line", "color": "red", "strokeWidth": 1, "strokeDash": [2, 2]},
   "encoding": {"x": {"field": "i", "type": "quantitative"}, "y": {"field": "s", "type": "quantitative"}}},
  {"data": {"values": [{"t": "MACD(5,34,4) -0.002951 -0.003626"}]}, "mark": {"type": "text", "align": "left", "baseline": "middle", "font": "DejaVu Sans", "fontSize": 8, "color": "black"},
   "encoding": {"x": {"datum": 0.9}, "y": {"datum": 0.00765}, "text": {"field": "t"}}}
 ]
},
{
 "width": 654, "height": 85,
 "layer": [
  {"data": {"values": [{"lv": 20}, {"lv": 80}]}, "mark": {"type": "rule", "color": "red", "strokeWidth": 1, "strokeDash": [12, 4]},
   "encoding": {"y": {"field": "lv", "type": "quantitative", "scale": {"domain": [0, 100], "nice": false, "zero": false, "padding": 0},
     "axis": {"orient": "right", "title": null, "values": [0, 20, 80, 100], "labelFlush": 5, "labelOverlap": false, "tickCount": 30}}}},
  {"data": {"name": "bars"}, "mark": {"type": "line", "color": "red", "strokeWidth": 1, "strokeDash": [2, 2]},
   "encoding": {"x": {"field": "i", "type": "quantitative", "scale": {"domain": [-0.375, 163.125], "nice": false, "zero": false, "padding": 0},
     "axis": {"title": null, "values": [0,16,32,48,64,80,96,112,128,144,160], "labelAlign": "left", "labelFlush": false, "tickSize": 4, "labelPadding": 2, "labelOverlap": false, "tickCount": 30,
       "labelExpr": "['2 Aug 2018','24 Aug 2018','17 Sep 2018','9 Oct 2018','31 Oct 2018','22 Nov 2018','14 Dec 2018','9 Jan 2019','31 Jan 2019','22 Feb 2019','15 Mar 2019'][round(datum.value/16)]"}},
     "y": {"field": "sg", "type": "quantitative"}}},
  {"data": {"name": "bars"}, "mark": {"type": "line", "color": "#0000CD", "strokeWidth": 2},
   "encoding": {"x": {"field": "i", "type": "quantitative"}, "y": {"field": "st", "type": "quantitative"}}},
  {"data": {"values": [{"t": "Stoch(5,3,3) 76.5546 80.2659"}]}, "mark": {"type": "text", "align": "left", "baseline": "middle", "font": "DejaVu Sans", "fontSize": 8, "color": "black"},
   "encoding": {"x": {"datum": 1.2}, "y": {"datum": 89.4}, "text": {"field": "t"}}}
 ]
}
]
}
